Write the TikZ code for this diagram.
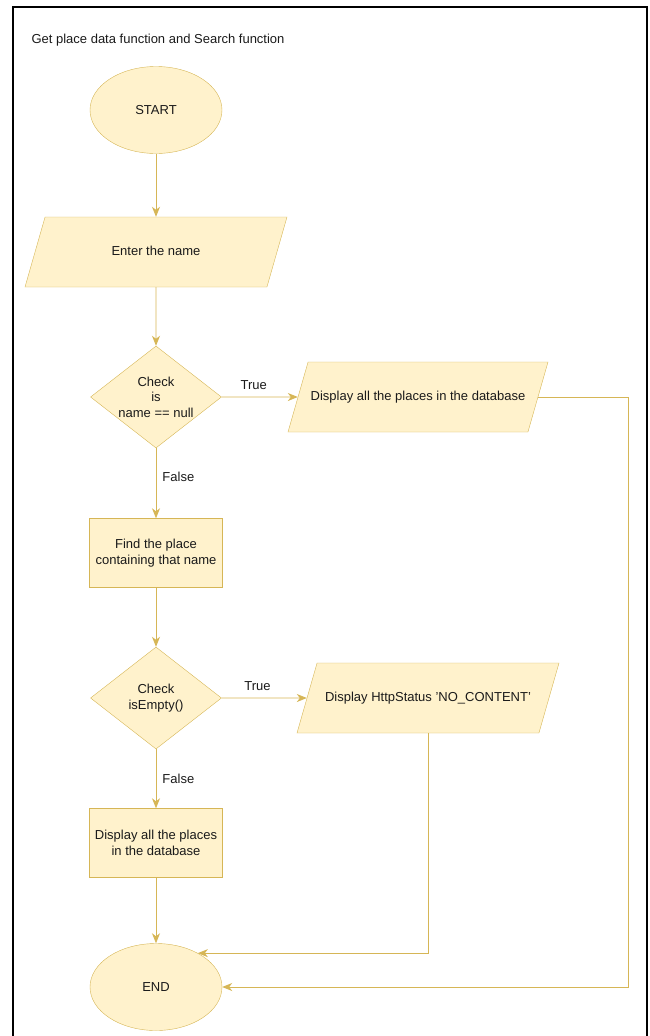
\documentclass[tikz,border=0pt]{standalone}
\usepackage{fontspec}
\setmainfont{Liberation Sans}
\usetikzlibrary{shapes.geometric,arrows.meta}
\definecolor{flowfill}{HTML}{FFF2CC}
\definecolor{flowline}{HTML}{D6B656}
\definecolor{inktext}{HTML}{1A1A1A}

\begin{document}
\begin{tikzpicture}[x=1pt,y=-1pt,
  every node/.style={font=\fontsize{13}{15.5}\selectfont, text=inktext},
  terminal/.style={ellipse, draw=flowline, fill=flowfill, minimum width=132pt, minimum height=87pt, inner sep=0pt},
  iobox/.style={trapezium, trapezium left angle=74, trapezium right angle=106,
    trapezium stretches body=true, draw=flowline, fill=flowfill,
    text height=10pt, text depth=3pt, inner ysep=28.5pt, inner xsep=0pt},
  procbox/.style={rectangle, draw=flowline, fill=flowfill, minimum width=133pt,
    minimum height=69pt, align=center, inner sep=0pt},
  decision/.style={diamond, draw=flowline, fill=flowfill, minimum width=131pt,
    minimum height=102pt, inner sep=0pt},
  flow/.style={draw=flowline, line width=0.9pt, -{Stealth[length=10pt,width=8pt,inset=3pt]}},
  edgelabel/.style={inner sep=0pt}
]
\useasboundingbox (0,0) rectangle (649,1036);

% outer frame (open at the bottom)
\draw[line width=2.5pt] (13,1036) -- (13,7) -- (647,7) -- (647,1036);

\node[anchor=base west] (title) at (28,43) {Get place data function and Search function};

% shapes
\node[terminal] (start) at (156,110) {START};
\node[iobox, minimum width=262pt] (p1) at (156,252) {Enter the name};
\node[decision, label={[align=center]center:Check\\is\\name == null}] (d1) at (156,397) {};
\node[iobox, minimum width=260pt] (p2) at (418,397) {Display all the places in the database};
\node[procbox] (b1) at (156,553) {Find the place\\containing that name};
\node[decision, label={[align=center]center:Check\\isEmpty()}] (d2) at (156,698) {};
\node[iobox, minimum width=262pt] (p3) at (428,698) {Display HttpStatus 'NO\_CONTENT'};
\node[procbox] (b2) at (156,843) {Display all the places\\in the database};
\node[terminal] (end) at (156,987) {END};
\coordinate (retA) at (628,987);

% connectors
\draw[flow] (start) -- (p1);
\draw[flow] (p1) -- (d1);
\draw[flow] (d1) -- node[edgelabel, above=7pt, pos=0.42] {True} (p2);
\draw[flow] (d1) -- node[edgelabel, right=6pt, pos=0.41] {False} (b1);
\draw[flow] (b1) -- (d2);
\draw[flow] (d2) -- node[edgelabel, above=7pt, pos=0.42] {True} (p3);
\draw[flow] (d2) -- node[edgelabel, right=6pt, pos=0.5] {False} (b2);
\draw[flow] (b2) -- (end);
\draw[flow] (p2.east) -| (retA) -- (end.east);
\draw[flow] (p3.south) |- (end.39);
\end{tikzpicture}
\end{document}
